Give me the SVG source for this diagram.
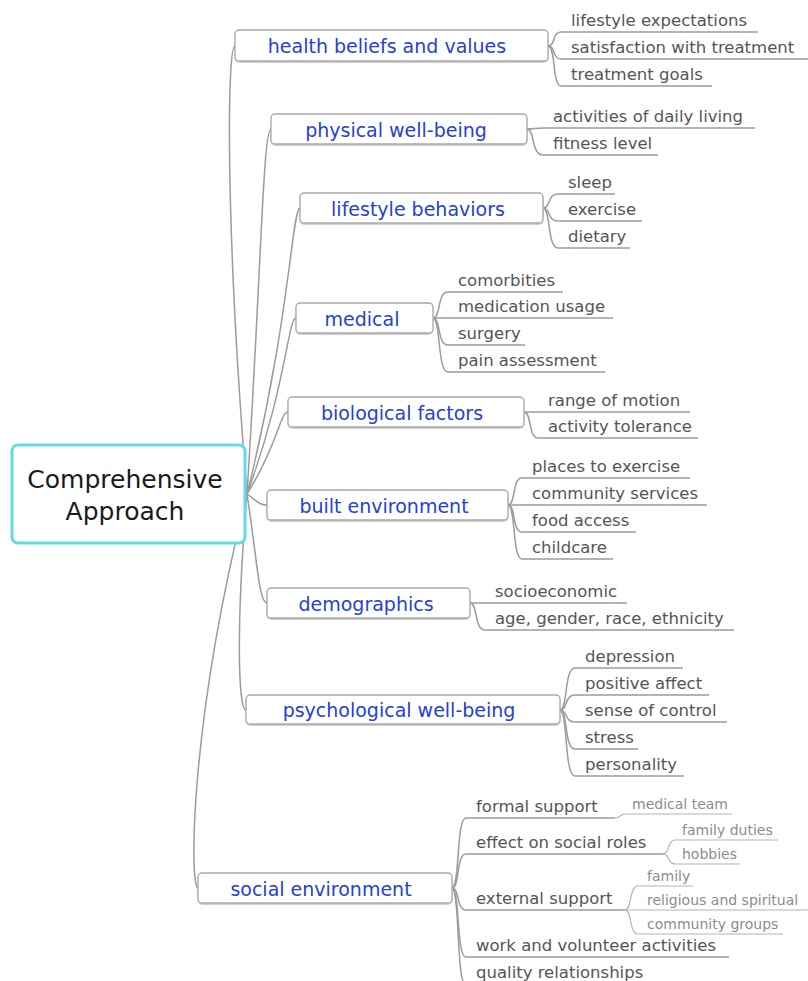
<svg xmlns="http://www.w3.org/2000/svg" width="808" height="981" viewBox="0 0 808 981">
<defs>
<filter id="sh" x="-5%" y="-20%" width="110%" height="150%"><feDropShadow dx="0" dy="1" stdDeviation="0.7" flood-color="#000" flood-opacity="0.25"/></filter>
<style>
text{font-family:"DejaVu Sans","Noto Sans",sans-serif}
.root{fill:#fff;stroke:#5fdde3;stroke-width:3}
.rt{font-size:25px;fill:#1a1a1a;text-anchor:middle}
.b{fill:#fff;stroke:#a9a9a9;stroke-width:1.3}
.bt{font-size:19px;fill:#2540d9;text-anchor:middle}
.lt{font-size:16.5px;fill:#555}
.gt{font-size:14px;fill:#8c8c8c}
.c{fill:none;stroke:#9c9c9c;stroke-width:1.5}
.g{fill:none;stroke:#b3b3b3;stroke-width:1.2}
</style>
</defs>
<rect width="808" height="981" fill="#fff"/>
<g id="connectors">
<path class="c" d="M247,494 C225,225 227,46 235,46"/>
<path class="c" d="M247,494 C261,275 263,129 271,129"/>
<path class="c" d="M247,494 C290,322 292,208 300,208"/>
<path class="c" d="M247,494 C286,388 288,318 296,318"/>
<path class="c" d="M247,494 C278,445 280,412 288,412"/>
<path class="c" d="M247,494 C257,501 259,505 267,505"/>
<path class="c" d="M247,494 C257,559 259,603 267,603"/>
<path class="c" d="M247,494 C236,624 238,710 246,710"/>
<path class="c" d="M247,494 C188,730 190,888 198,888"/>
<path class="c" d="M548,46 C556,46 552,32 561,32 H758"/>
<path class="c" d="M548,46 C556,46 552,59 561,59 H808"/>
<path class="c" d="M548,46 C556,46 552,86 561,86 H712"/>
<path class="c" d="M527,129 C535,129 535,128 543,128 H755"/>
<path class="c" d="M527,129 C535,129 531,155 543,155 H658"/>
<path class="c" d="M543,208 C551,208 547,194 558,194 H615"/>
<path class="c" d="M543,208 C551,208 547,221 558,221 H642"/>
<path class="c" d="M543,208 C551,208 547,248 558,248 H630"/>
<path class="c" d="M433,318 C441,318 437,292 448,292 H563"/>
<path class="c" d="M433,318 H613"/>
<path class="c" d="M433,318 C441,318 437,345 448,345 H525"/>
<path class="c" d="M433,318 C441,318 437,372 448,372 H605"/>
<path class="c" d="M524,412 H690"/>
<path class="c" d="M524,412 C532,412 528,438 538,438 H698"/>
<path class="c" d="M508,505 C516,505 512,478 522,478 H690"/>
<path class="c" d="M508,505 H707"/>
<path class="c" d="M508,505 C516,505 512,532 522,532 H636"/>
<path class="c" d="M508,505 C516,505 512,559 522,559 H613"/>
<path class="c" d="M470,603 H627"/>
<path class="c" d="M470,603 C478,603 474,630 485,630 H734"/>
<path class="c" d="M560,710 C568,710 564,668 575,668 H683"/>
<path class="c" d="M560,710 C568,710 564,695 575,695 H709"/>
<path class="c" d="M560,710 C568,710 564,722 575,722 H727"/>
<path class="c" d="M560,710 C568,710 564,749 575,749 H638"/>
<path class="c" d="M560,710 C568,710 564,776 575,776 H684"/>
<path class="c" d="M452,888 C460,888 456,818 466,818 H615"/>
<path class="c" d="M452,888 C460,888 456,854 466,854 H663"/>
<path class="c" d="M452,888 C460,888 456,910 466,910 H625"/>
<path class="c" d="M452,888 C460,888 456,957 466,957 H729"/>
<path class="c" d="M452,888 C460,888 456,985 466,985 H700"/>
<path class="g" d="M615,818 C621,818 619,814 626,814 H732"/>
<path class="g" d="M663,854 C670,854 667,840 675,840 H778"/>
<path class="g" d="M663,854 C670,854 667,864 675,864 H740"/>
<path class="g" d="M625,910 C632,910 629,886 638,886 H693"/>
<path class="g" d="M625,910 H808"/>
<path class="g" d="M625,910 C632,910 629,934 638,934 H783"/>
</g>
<g id="root">
<rect class="root" x="12" y="445" width="233" height="98" rx="6"/>
<text class="rt" x="125" y="488">Comprehensive</text>
<text class="rt" x="125" y="520">Approach</text>
</g>
<g id="health">
<rect class="b" filter="url(#sh)" x="235" y="30" width="313" height="31" rx="4"/>
<text class="bt" x="387" y="53">health beliefs and values</text>
<text class="lt" x="571" y="26">lifestyle expectations</text>
<text class="lt" x="571" y="53">satisfaction with treatment</text>
<text class="lt" x="571" y="80">treatment goals</text>
</g>
<g id="physical">
<rect class="b" filter="url(#sh)" x="271" y="114" width="256" height="30" rx="4"/>
<text class="bt" x="396" y="136.5">physical well-being</text>
<text class="lt" x="553" y="122">activities of daily living</text>
<text class="lt" x="553" y="149">fitness level</text>
</g>
<g id="lifestyle">
<rect class="b" filter="url(#sh)" x="300" y="193" width="243" height="30" rx="4"/>
<text class="bt" x="418" y="215.5">lifestyle behaviors</text>
<text class="lt" x="568" y="188">sleep</text>
<text class="lt" x="568" y="215">exercise</text>
<text class="lt" x="568" y="242">dietary</text>
</g>
<g id="medical">
<rect class="b" filter="url(#sh)" x="296" y="303" width="137" height="30" rx="4"/>
<text class="bt" x="362" y="325.5">medical</text>
<text class="lt" x="458" y="286">comorbities</text>
<text class="lt" x="458" y="312">medication usage</text>
<text class="lt" x="458" y="339">surgery</text>
<text class="lt" x="458" y="366">pain assessment</text>
</g>
<g id="biological">
<rect class="b" filter="url(#sh)" x="288" y="397" width="236" height="30" rx="4"/>
<text class="bt" x="402" y="419.5">biological factors</text>
<text class="lt" x="548" y="406">range of motion</text>
<text class="lt" x="548" y="432">activity tolerance</text>
</g>
<g id="built">
<rect class="b" filter="url(#sh)" x="267" y="490" width="241" height="30" rx="4"/>
<text class="bt" x="384" y="512.5">built environment</text>
<text class="lt" x="532" y="472">places to exercise</text>
<text class="lt" x="532" y="499">community services</text>
<text class="lt" x="532" y="526">food access</text>
<text class="lt" x="532" y="553">childcare</text>
</g>
<g id="demographics">
<rect class="b" filter="url(#sh)" x="267" y="588" width="203" height="30" rx="4"/>
<text class="bt" x="366" y="610.5">demographics</text>
<text class="lt" x="495" y="597">socioeconomic</text>
<text class="lt" x="495" y="624">age, gender, race, ethnicity</text>
</g>
<g id="psychological">
<rect class="b" filter="url(#sh)" x="246" y="695" width="314" height="29" rx="4"/>
<text class="bt" x="399" y="717">psychological well-being</text>
<text class="lt" x="585" y="662">depression</text>
<text class="lt" x="585" y="689">positive affect</text>
<text class="lt" x="585" y="716">sense of control</text>
<text class="lt" x="585" y="743">stress</text>
<text class="lt" x="585" y="770">personality</text>
</g>
<g id="social">
<rect class="b" filter="url(#sh)" x="198" y="873" width="254" height="30" rx="4"/>
<text class="bt" x="321" y="895.5">social environment</text>
<text class="lt" x="476" y="812">formal support</text>
<text class="lt" x="476" y="848">effect on social roles</text>
<text class="lt" x="476" y="904">external support</text>
<text class="lt" x="476" y="951">work and volunteer activities</text>
<text class="lt" x="476" y="978">quality relationships</text>
<text class="gt" x="632" y="809">medical team</text>
<text class="gt" x="682" y="835">family duties</text>
<text class="gt" x="682" y="859">hobbies</text>
<text class="gt" x="647" y="881">family</text>
<text class="gt" x="647" y="905">religious and spiritual</text>
<text class="gt" x="647" y="929">community groups</text>
</g>
</svg>
